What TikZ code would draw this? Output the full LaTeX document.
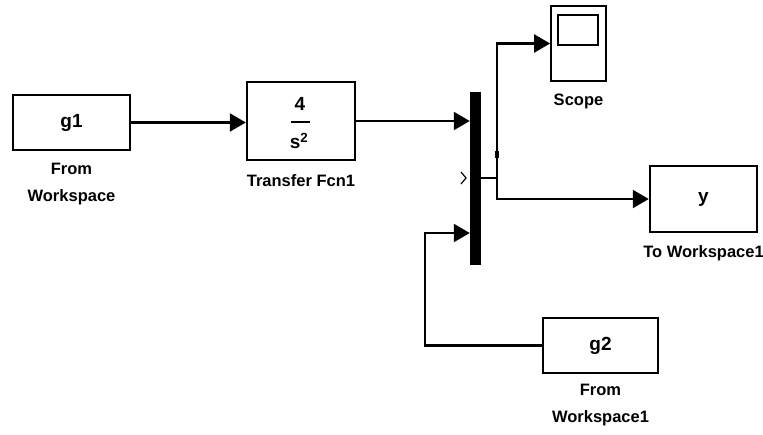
\documentclass[tikz,border=0pt]{standalone}
\usepackage{fontspec}
\setmainfont{Liberation Sans}
\usetikzlibrary{positioning,arrows.meta}

\begin{document}
\begin{tikzpicture}[x=1pt,y=-1pt,
  every node/.style={font=\fontsize{19}{22}\selectfont\bfseries},
  blk/.style={draw,line width=2.4pt,inner sep=0pt},
  lbl/.style={align=center,inner sep=0pt,font=\fontsize{16.5}{27}\selectfont\bfseries},
  sig/.style={line width=2.2pt},
  arr/.style={sig,-{Triangle[length=16pt,width=18pt]}}]
\useasboundingbox (0,0) rectangle (763,434);

% source blocks
\node[blk,minimum width=117,minimum height=55] (g1) at (71.5,122.5) {g1};
\node[lbl,below=12pt of g1] (g1lbl) {From\\Workspace};
\node[blk,minimum width=115,minimum height=55] (g2) at (600.5,345.5) {g2};
\node[lbl,below=10pt of g2] (g2lbl) {From\\Workspace1};

% transfer function
\node[blk,minimum width=108,minimum height=78] (tf) at (301,121) {};
\node (num) at (300,104) {4};
\node (den) at (299,141) {s\textsuperscript{2}};
\draw[line width=2.2pt] (291,122) -- (310,122);
\node[lbl,below=13pt of tf] (tflbl) {Transfer Fcn1};

% mux
\node[fill,inner sep=0pt,minimum width=11,minimum height=173] (mux) at (475.5,178.5) {};
\draw[line width=1.2pt] (461,172) -- (466,178) -- (461,184);

% scope
\node[blk,line width=1.8pt,minimum width=55,minimum height=75] (scope) at (578.5,43.5) {};
\node[blk,minimum width=40,minimum height=30] (screen) at (578,30) {};
\node[lbl,below=12pt of scope] (scopelbl) {Scope};

% to workspace
\node[blk,minimum width=107,minimum height=66] (tows) at (703.5,199) {y};
\node[lbl,below=12pt of tows] (towslbl) {To Workspace1};

% signals
\coordinate (in1) at (mux.west |- tf.east);
\coordinate (in2) at (mux.west |- 0,233);
\coordinate (br) at (497,178);
\draw[arr] (g1.east) -- (g1.east -| tf.west);
\draw[arr] (tf.east) -- (in1);
\draw[arr] (g2.west) -- ++(-117,0) |- (in2);
\draw[sig] (mux.east |- br) -- (br);
\draw[arr] (br) |- (scope.west);
\draw[arr] (br) |- (tows.west);
\fill (495,151) rectangle (499,158);
\end{tikzpicture}
\end{document}
